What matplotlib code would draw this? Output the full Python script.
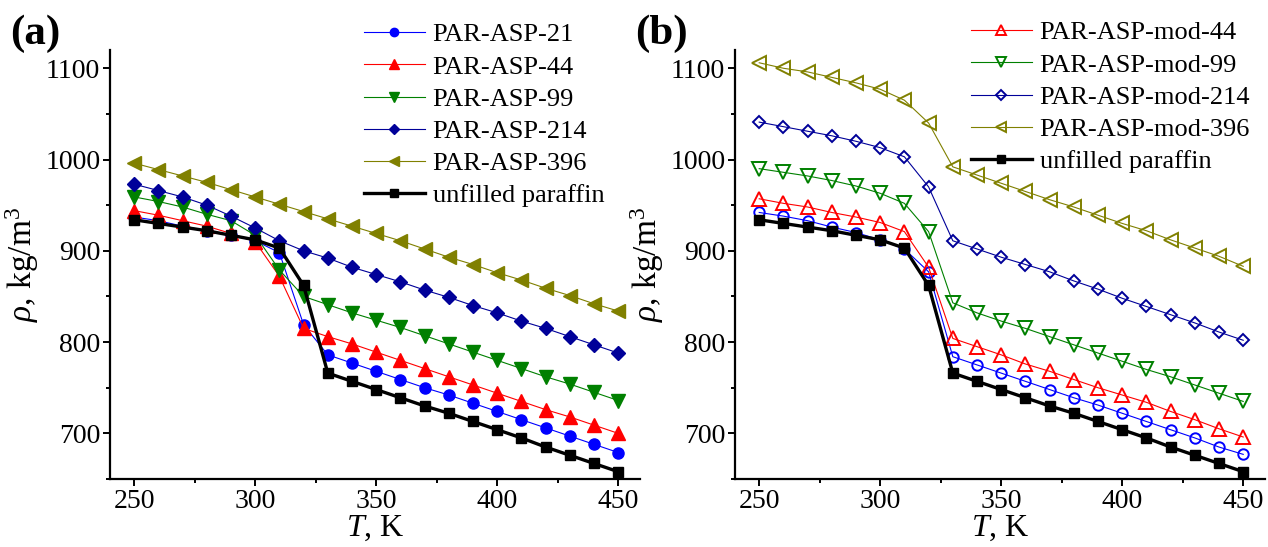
import matplotlib
matplotlib.use("Agg")
import matplotlib.pyplot as plt
from matplotlib.ticker import MultipleLocator

plt.rcParams['font.family'] = ['Liberation Serif', 'DejaVu Serif']
plt.rcParams['mathtext.fontset'] = 'custom'
plt.rcParams['mathtext.rm'] = 'Liberation Serif'
plt.rcParams['mathtext.it'] = 'Liberation Serif:italic'
plt.rcParams['mathtext.bf'] = 'Liberation Serif:bold'

# ---- data ----
T = [250, 260, 270, 280, 290, 300, 310, 320, 330, 340, 350,
     360, 370, 380, 390, 400, 410, 420, 430, 440, 450]

# panel (a)
par21 = [937, 933, 927, 922, 917, 911, 898, 819, 786, 777, 768, 759, 750, 742, 733, 724, 715, 706, 697, 688, 679]
par44 = [944, 939, 933, 927, 919, 910, 872, 815, 806, 798, 789, 780, 771, 762, 753, 744, 735, 726, 718, 709, 700]
par99 = [959, 954, 948, 940, 933, 917, 879, 850, 841, 832, 824, 816, 807, 798, 789, 780, 771, 762, 754, 745, 736]
par214 = [973, 966, 959, 950, 938, 925, 911, 900, 892, 882, 874, 866, 857, 849, 840, 832, 823, 815, 806, 797, 788]
par396 = [996, 989, 982, 975, 967, 959, 951, 943, 935, 927, 919, 911, 902, 893, 885, 876, 868, 859, 851, 842, 834]
paraffin = [934, 930, 926, 922, 917, 912, 903, 862, 766, 757, 748, 739, 730, 722, 713, 704, 695, 685, 676, 667, 658]

# panel (b)
mod21 = [942, 938, 933, 926, 920, 912, 902, 877, 784, 775, 766, 757, 748, 739, 731, 722, 713, 704, 695, 685, 677]
mod44 = [957, 952, 948, 942, 937, 931, 921, 882, 804, 795, 786, 776, 768, 759, 750, 742, 734, 724, 715, 705, 696]
mod99 = [990, 986, 982, 977, 971, 963, 952, 921, 843, 832, 823, 815, 806, 797, 788, 779, 770, 762, 753, 744, 735]
mod214 = [1041, 1036, 1031, 1026, 1020, 1013, 1003, 970, 911, 902, 893, 885, 877, 867, 858, 848, 839, 830, 821, 811, 802]
mod396 = [1106, 1100, 1096, 1090, 1084, 1077, 1065, 1040, 992, 983, 974, 965, 956, 948, 939, 930, 922, 912, 903, 894, 883]

labels_a = ['PAR-ASP-21', 'PAR-ASP-44', 'PAR-ASP-99', 'PAR-ASP-214', 'PAR-ASP-396', 'unfilled paraffin']
labels_b = ['PAR-ASP-mod-44', 'PAR-ASP-mod-99', 'PAR-ASP-mod-214', 'PAR-ASP-mod-396', 'unfilled paraffin']

BLUE = '#0000FF'
RED = '#FF0000'
GREEN = '#008000'
NAVY = '#000099'
OLIVE = '#808000'

W, H = 1268, 547
fig = plt.figure(figsize=(W / 100, H / 100), dpi=100)

ax_a = fig.add_axes([110 / W, 1 - 479 / H, 530 / W, 429 / H])
ax_b = fig.add_axes([735 / W, 1 - 479 / H, 530 / W, 429 / H])

thin = 0.8
# panel (a)
ax_a.plot(T, par21, '-', color=BLUE, lw=thin, marker='o', ms=8, mfc=BLUE, mec=BLUE, label=labels_a[0])
ax_a.plot(T, par44, '-', color=RED, lw=thin, marker='^', ms=9.5, mfc=RED, mec=RED, label=labels_a[1])
ax_a.plot(T, par99, '-', color=GREEN, lw=thin, marker='v', ms=9.5, mfc=GREEN, mec=GREEN, label=labels_a[2])
ax_a.plot(T, par214, '-', color=NAVY, lw=thin, marker='D', ms=6.8, mfc=NAVY, mec=NAVY, label=labels_a[3])
ax_a.plot(T, par396, '-', color=OLIVE, lw=thin, marker='<', ms=9.5, mfc=OLIVE, mec=OLIVE, label=labels_a[4])
ax_a.plot(T, paraffin, '-', color='black', lw=2.4, marker='s', ms=6.8, mfc='black', mec='black', label=labels_a[5])

# panel (b)
ax_b.plot(T, mod21, '-', color=BLUE, lw=thin, marker='o', ms=7.5, mfc='none', mec=BLUE, mew=1.4)
ax_b.plot(T, mod44, '-', color=RED, lw=thin, marker='^', ms=9.5, mfc='none', mec=RED, mew=1.4, label=labels_b[0])
ax_b.plot(T, mod99, '-', color=GREEN, lw=thin, marker='v', ms=9.5, mfc='none', mec=GREEN, mew=1.4, label=labels_b[1])
ax_b.plot(T, mod214, '-', color=NAVY, lw=thin, marker='D', ms=6.6, mfc='none', mec=NAVY, mew=1.4, label=labels_b[2])
ax_b.plot(T, mod396, '-', color=OLIVE, lw=thin, marker='<', ms=9.5, mfc='none', mec=OLIVE, mew=1.4, label=labels_b[3])
ax_b.plot(T, paraffin, '-', color='black', lw=2.4, marker='s', ms=6.8, mfc='black', mec='black', label=labels_b[4])

for ax in (ax_a, ax_b):
    ax.set_xlim(240, 459)
    ax.set_ylim(650, 1120)
    ax.spines['top'].set_visible(False)
    ax.spines['right'].set_visible(False)
    ax.spines['left'].set_linewidth(1.6)
    ax.spines['bottom'].set_linewidth(1.6)
    ax.xaxis.set_major_locator(MultipleLocator(50))
    ax.xaxis.set_minor_locator(MultipleLocator(25))
    ax.yaxis.set_major_locator(MultipleLocator(100))
    ax.yaxis.set_minor_locator(MultipleLocator(50))
    ax.tick_params(which='major', direction='out', length=5, width=1.4, labelsize=20, pad=2)
    ax.tick_params(which='minor', direction='out', length=3, width=1.4)
    ax.set_xlabel(r'$T$, K', fontsize=23, labelpad=0)
    ax.set_ylabel(r'$\rho$, kg/m$^{3}$', fontsize=24, labelpad=3)

fig.text(10 / W, 1 - 44 / H, '(a)', fontsize=31, fontweight='bold', ha='left', va='baseline')
fig.text(635 / W, 1 - 44 / H, '(b)', fontsize=31, fontweight='bold', ha='left', va='baseline')

leg_kw = dict(frameon=False, fontsize=19, numpoints=1, handlelength=2.3, handletextpad=0.3,
              labelspacing=0.33, borderpad=0, borderaxespad=0, markerscale=0.75,
              loc='upper left', bbox_transform=fig.transFigure)
ax_a.legend(bbox_to_anchor=(364 / W, 1 - 23 / H), **leg_kw)
ax_b.legend(bbox_to_anchor=(971 / W, 1 - 21 / H), **leg_kw)

fig.savefig('out.png', dpi=100)
